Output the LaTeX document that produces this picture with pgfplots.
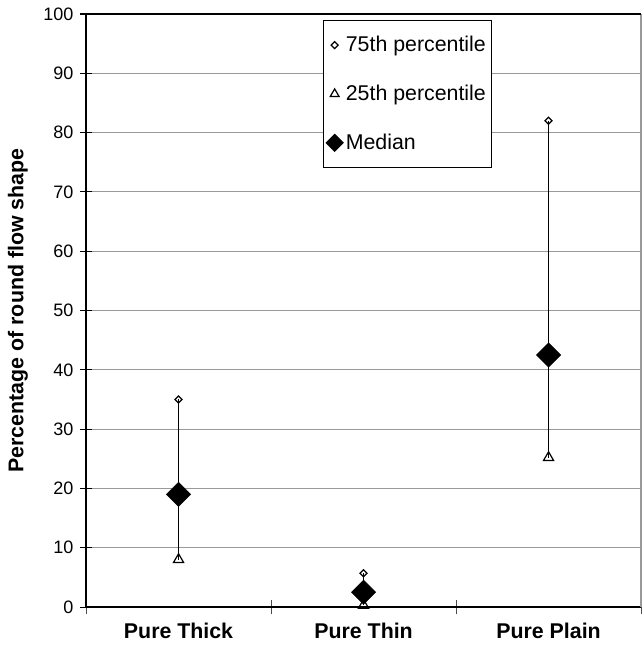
\documentclass[border=0pt]{standalone}
\usepackage{fontspec}
\setmainfont{Liberation Sans}
\usepackage{pgfplots}
\pgfplotsset{compat=1.18}
\pgfplotsset{legmark/.style={legend image code/.code={\draw[##1,mark size=#1] plot coordinates {(0.2cm,0cm)};}}}
\begin{document}
\begin{tikzpicture}
\begin{axis}[
  scale only axis,
  width=416pt, height=444.5pt,
  xmin=0, xmax=3, ymin=0, ymax=100,
  axis x line*=bottom, axis y line*=left,
  axis line style={black, line width=1.4pt},
  xtick={0.5,1.5,2.5},
  xticklabels={\textbf{Pure Thick},\textbf{Pure Thin},\textbf{Pure Plain}},
  major x tick style={draw=none},
  minor xtick={0,1,2,3},
  minor x tick style={black!70, line width=0.8pt},
  minor tick length=11pt,
  ytick={0,10,...,100},
  y tick style={black, line width=0.8pt},
  major tick length=9pt,
  tick align=center,
  ymajorgrids,
  grid style={gray!80, line width=0.75pt},
  tick label style={font=\fontsize{13.5}{15}\selectfont},
  yticklabel style={xshift=-1.5pt},
  /pgf/number format/assume math mode=true,
  ylabel={\textbf{Percentage of round flow shape}},
  ylabel style={font=\fontsize{16}{18}\selectfont, at={(axis description cs:-0.1226,0.5)}, anchor=center},
  xticklabel style={font=\fontsize{16}{18}\selectfont, yshift=-4.2pt},
  legend style={at={(0.427,0.99)}, anchor=north west, draw=black, line width=0.7pt,
    font=\fontsize{16}{18}\selectfont, row sep=19.5pt, inner ysep=10pt, inner xsep=2pt},
  legend cell align=left,
  clip=false,
]
\draw[gray!80, line width=0.9pt] (rel axis cs:1,0) -- (rel axis cs:1,1);
\draw[black, line width=0.9pt] (rel axis cs:0,1) -- (rel axis cs:1,1);
\coordinate (ll) at (rel axis cs:0,0);
\coordinate (ur) at (rel axis cs:1,1);
\addplot[black, line width=0.8pt, forget plot] coordinates {(0.5,8) (0.5,35)};
\addplot[black, line width=0.8pt, forget plot] coordinates {(1.5,0.3) (1.5,5.7)};
\addplot[black, line width=0.8pt, forget plot] coordinates {(2.5,25.2) (2.5,82)};
\addplot[only marks, mark=square, mark size=1.85pt, mark options={rotate=45, fill=white, draw=black, line width=0.9pt},
  legmark=1.85pt]
  coordinates {(0.5,35) (1.5,5.7) (2.5,82)};
\addlegendentry{75th percentile}
\addplot[only marks, mark=triangle, mark size=4.4pt, mark options={fill=white, draw=black, line width=0.9pt},
  legmark=3.8pt]
  coordinates {(0.5,8) (1.5,0.3) (2.5,25.2)};
\addlegendentry{25th percentile}
\addplot[only marks, mark=square*, mark size=6.4pt, mark options={rotate=45, fill=black, draw=black},
  legmark=4.5pt]
  coordinates {(0.5,19) (1.5,2.5) (2.5,42.5)};
\addlegendentry{Median}
\end{axis}
\pgfresetboundingbox
\path[use as bounding box] ([xshift=-64.5pt,yshift=-33.7pt]ll) rectangle ([xshift=1.7pt,yshift=10.5pt]ur);
\end{tikzpicture}
\end{document}
